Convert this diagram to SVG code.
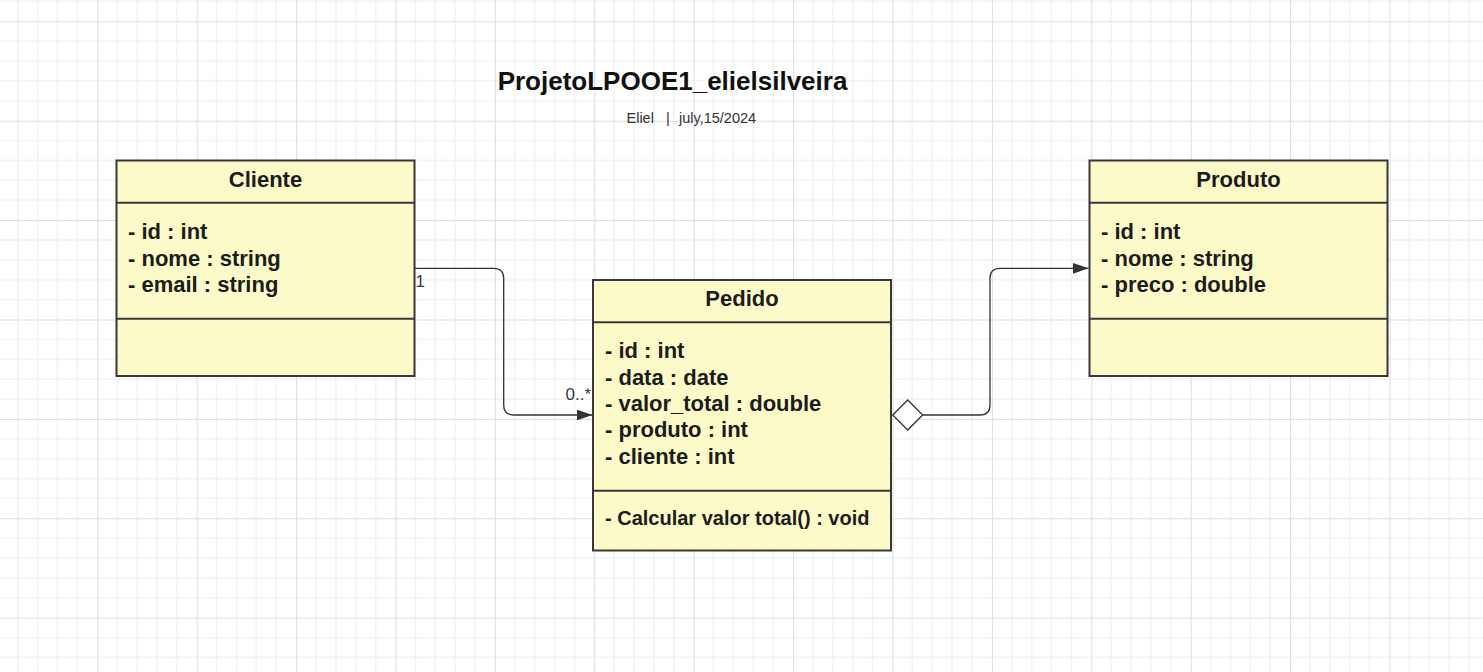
<svg xmlns="http://www.w3.org/2000/svg" width="1483" height="672" viewBox="0 0 1483 672">
<style>
.box{fill:#fcfac8;stroke:#383838;stroke-width:2}
.div{stroke:#383838;stroke-width:2;fill:none}
.t{font-family:"Liberation Sans",Arial,sans-serif;font-weight:bold;fill:#1c1c1c}
.hd{font-size:22px;text-anchor:middle}
.at{font-size:22px}
.me{font-size:20px}
.lbl{font-family:"Liberation Sans",Arial,sans-serif;font-size:17px;fill:#3a3a3a}
.conn{fill:none;stroke:#333;stroke-width:1.3}
</style>
<defs>
<pattern id="grid" patternUnits="userSpaceOnUse" x="97.3" y="21.3" width="99.4" height="99.4">
<path d="M19.88,0V99.4M39.76,0V99.4M59.64,0V99.4M79.52,0V99.4M0,19.88H99.4M0,39.76H99.4M0,59.64H99.4M0,79.52H99.4" stroke="#ececec" stroke-width="1" fill="none"/>
<path d="M0.5,0V99.4M0,0.5H99.4" stroke="#dcdcdc" stroke-width="1" fill="none"/>
</pattern>
<marker id="arrow" markerUnits="userSpaceOnUse" viewBox="0 0 16 11" refX="16" refY="5.5" markerWidth="16" markerHeight="11" orient="auto">
<path d="M0,0L16,5.5L0,11Z" fill="#333"/>
</marker>
</defs>
<rect width="1483" height="672" fill="#ffffff"/>
<rect width="1483" height="672" fill="url(#grid)"/>

<g id="title">
<text x="672.5" y="90" font-family="'Liberation Sans',Arial,sans-serif" font-size="26" font-weight="bold" fill="#111" text-anchor="middle">ProjetoLPOOE1_elielsilveira</text>
<text y="122.5" font-family="'Liberation Sans',Arial,sans-serif" font-size="14.5" fill="#333"><tspan x="626.5">Eliel</tspan><tspan x="666">|</tspan><tspan x="679">july,15/2024</tspan></text>
</g>

<g id="connectors">
<path class="conn" d="M414,268.3H493.7Q503.7,268.3 503.7,278.3V405Q503.7,415 513.7,415H592.5" marker-end="url(#arrow)"/>
<text class="lbl" x="415.5" y="286.5">1</text>
<text class="lbl" x="565.5" y="400">0..*</text>
<path class="conn" d="M922.7,415H980Q990,415 990,405V278.3Q990,268.3 1000,268.3H1088.5" marker-end="url(#arrow)"/>
<polygon points="892.7,415 907.7,400 922.7,415 907.7,430" fill="#ffffff" stroke="#333" stroke-width="1.3"/>
</g>

<g id="cliente">
<rect class="box" x="116.5" y="160.5" width="298" height="215.5"/>
<path class="div" d="M116.5,202.7H414.5M116.5,318.7H414.5"/>
<text class="t hd" x="265.5" y="186.5">Cliente</text>
<text class="t at" x="128" y="239.3">- id : int</text>
<text class="t at" x="128" y="265.6">- nome : string</text>
<text class="t at" x="128" y="291.9">- email : string</text>
</g>

<g id="pedido">
<rect class="box" x="593" y="280" width="298" height="270.5"/>
<path class="div" d="M593,322.3H891M593,490.7H891"/>
<text class="t hd" x="742" y="305.5">Pedido</text>
<text class="t at" x="605" y="358.3">- id : int</text>
<text class="t at" x="605" y="384.6">- data : date</text>
<text class="t at" x="605" y="410.9">- valor_total : double</text>
<text class="t at" x="605" y="437.2">- produto : int</text>
<text class="t at" x="605" y="463.5">- cliente : int</text>
<text class="t me" x="605" y="525">- Calcular valor total() : void</text>
</g>

<g id="produto">
<rect class="box" x="1089.5" y="160.5" width="298" height="215.5"/>
<path class="div" d="M1089.5,202.7H1387.5M1089.5,318.7H1387.5"/>
<text class="t hd" x="1238.5" y="186.5">Produto</text>
<text class="t at" x="1101" y="239.3">- id : int</text>
<text class="t at" x="1101" y="265.6">- nome : string</text>
<text class="t at" x="1101" y="291.9">- preco : double</text>
</g>
</svg>
